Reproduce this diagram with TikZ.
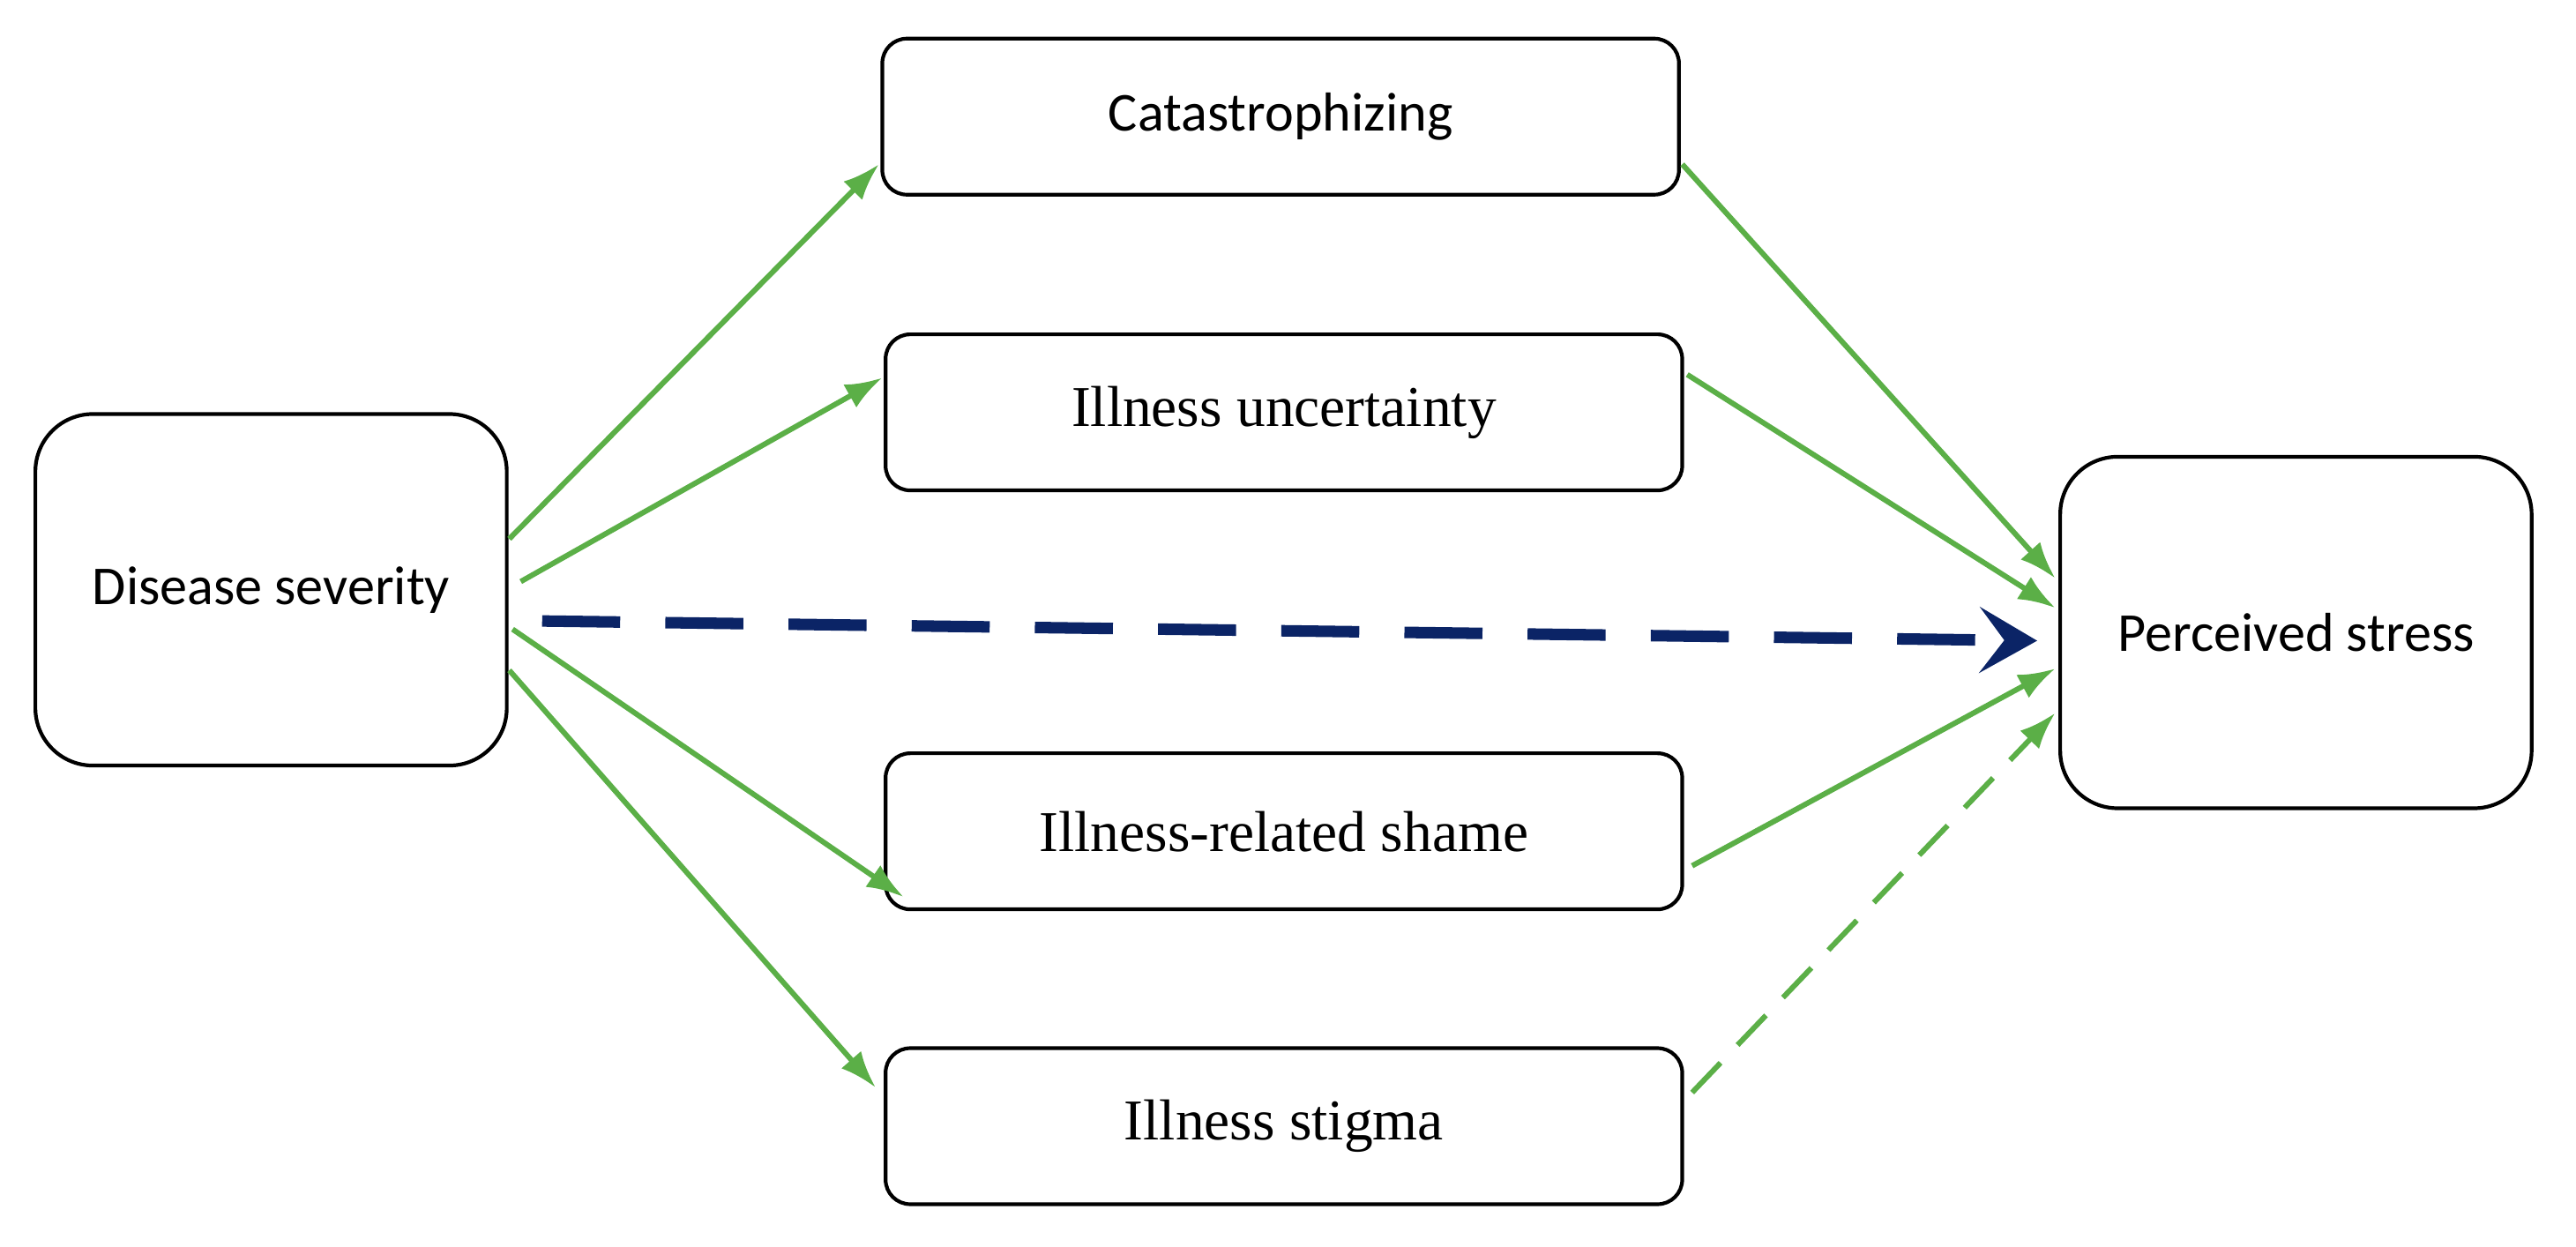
\documentclass[tikz,border=0pt]{standalone}
\usepackage{fontspec}
\setmainfont{Carlito}
\newfontfamily\tms{Liberation Serif}
\usetikzlibrary{arrows.meta}
\definecolor{grn}{HTML}{5BAF47}
\definecolor{nvy}{HTML}{0B2466}
\begin{document}
\begin{tikzpicture}[x=0.02cm,y=-0.02cm,
 box/.style={draw,line width=0.045cm,rounded corners=0.35cm,inner sep=0pt,font=\fontsize{19}{22}\selectfont},
 mid/.style={box,rounded corners=0.3cm,minimum width=9.7cm,minimum height=1.9cm,font=\tms\fontsize{20}{23}\selectfont},
 big/.style={box,rounded corners=0.7cm,minimum width=5.74cm,minimum height=4.28cm},
 g/.style={draw=grn,line width=0.065cm,-{Latex[length=0.45cm,width=0.32cm]}}]
\useasboundingbox (0,0) rectangle (1568,759);
\node[big] (ds) at (165,359) {Disease severity};
\node[big] (ps) at (1397.5,385) {Perceived stress};
\node[mid,font=\fontsize{19}{22}\selectfont] (c) at (779.5,71) {Catastrophizing};
\node[mid] (u) at (781.5,251) {Illness uncertainty};
\node[mid] (s) at (781.5,506) {Illness-related shame};
\node[mid] (t) at (781.5,685.5) {Illness stigma};
\coordinate (a1) at (310,328); \coordinate (a1e) at (535,100);
\coordinate (a2) at (317,354); \coordinate (a2e) at (537,230);
\coordinate (a3) at (312,383); \coordinate (a3e) at (550,546);
\coordinate (a4) at (310,408); \coordinate (a4e) at (533,662);
\coordinate (b1) at (1024,100); \coordinate (b1e) at (1251,352);
\coordinate (b2) at (1027,228); \coordinate (b2e) at (1251,370);
\coordinate (b3) at (1030,527); \coordinate (b3e) at (1251,407);
\coordinate (b4) at (1030,665); \coordinate (b4e) at (1251,434);
\coordinate (n1) at (330,378); \coordinate (n1e) at (1240,390);
\draw[g] (a1) -- (a1e);
\draw[g] (a2) -- (a2e);
\draw[g] (a3) -- (a3e);
\draw[g] (a4) -- (a4e);
\draw[g] (b1) -- (b1e);
\draw[g] (b2) -- (b2e);
\draw[g] (b3) -- (b3e);
\draw[g,dash pattern=on 0.5cm off 0.3cm] (b4) -- (b4e);
\draw[draw=nvy,line width=0.14cm,dash pattern=on 0.95cm off 0.55cm,-{Stealth[length=0.7cm,width=0.8cm,inset=0.3cm]}] (n1) -- (n1e);
\end{tikzpicture}
\end{document}
